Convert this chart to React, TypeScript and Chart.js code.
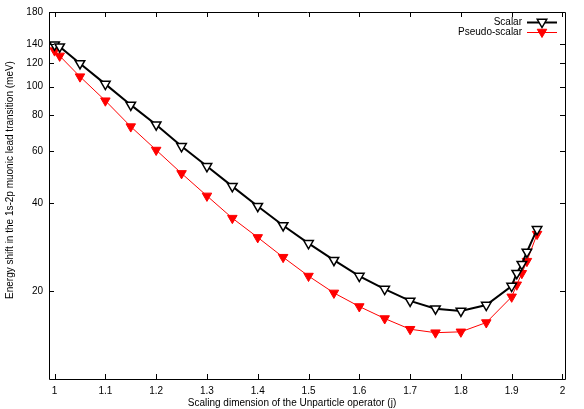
import React, { useEffect, useRef } from "react";
import { Chart, registerables } from "chart.js";

Chart.register(...registerables);

const xValues = [1, 1.01, 1.05, 1.1, 1.15, 1.2, 1.25, 1.3, 1.35, 1.4, 1.45, 1.5, 1.55, 1.6, 1.65, 1.7, 1.75, 1.8, 1.85, 1.9, 1.91, 1.92, 1.93, 1.95];
const scalarValues = [139, 137, 120, 102, 86.6, 74.1, 62.5, 53.4, 45.6, 39.0, 33.5, 29.1, 25.5, 22.5, 20.3, 18.5, 17.4, 17.1, 17.9, 20.8, 23.0, 24.7, 27.2, 32.5];
const pseudoValues = [132.8, 127.4, 108.2, 89.5, 73.0, 60.7, 50.5, 42.3, 35.5, 30.5, 26.1, 22.5, 19.7, 17.7, 16.1, 14.8, 14.4, 14.5, 15.6, 19.1, 21.0, 23.0, 25.3, 31.3];
const xTicks = [1, 1.1, 1.2, 1.3, 1.4, 1.5, 1.6, 1.7, 1.8, 1.9, 2];
const yTicks = [20, 40, 60, 80, 100, 120, 140, 180];
const seriesNames = ["Scalar", "Pseudo-scalar"];
const xTitle = "Scaling dimension of the Unparticle operator (j)";
const yTitle = "Energy shift in the 1s-2p muonic lead transition (meV)";

const FONT = "Liberation Sans, Arial, Helvetica, sans-serif";

const framePlugin = {
  id: "gnuplotFrame",
  afterDraw(chart: any) {
    const ctx = chart.ctx;
    const { left, right, top, bottom } = chart.chartArea;
    const xs = chart.scales.x;
    const ys = chart.scales.y;
    ctx.save();
    ctx.strokeStyle = "#000";
    ctx.lineWidth = 1;
    ctx.beginPath();
    ctx.rect(Math.round(left) + 0.5, Math.round(top) + 0.5, Math.round(right - left), Math.round(bottom - top));
    ctx.stroke();
    const t = 5;
    ctx.beginPath();
    xTicks.forEach((v) => {
      const px = Math.round(xs.getPixelForValue(v)) + 0.5;
      ctx.moveTo(px, bottom);
      ctx.lineTo(px, bottom - t);
      ctx.moveTo(px, top);
      ctx.lineTo(px, top + t);
    });
    yTicks.forEach((v) => {
      const py = Math.round(ys.getPixelForValue(v)) + 0.5;
      ctx.moveTo(left, py);
      ctx.lineTo(left + t, py);
      ctx.moveTo(right, py);
      ctx.lineTo(right - t, py);
    });
    ctx.stroke();

    // legend
    ctx.font = "10px " + FONT;
    ctx.fillStyle = "#000";
    ctx.textAlign = "right";
    ctx.textBaseline = "middle";
    chart.data.datasets.forEach((ds: any, i: number) => {
      const y = 22 + i * 10;
      ctx.fillStyle = "#000";
      ctx.fillText(ds.label, 522, y);
      ctx.strokeStyle = ds.borderColor;
      ctx.lineWidth = ds.borderWidth;
      ctx.beginPath();
      ctx.moveTo(527, y + 0.5);
      ctx.lineTo(557, y + 0.5);
      ctx.stroke();
      ctx.beginPath();
      const r = ds.pointRadius;
      const cx = 542;
      const cy = y;
      let rad = Math.PI; // rotation 180
      for (let k = 0; k < 3; k++) {
        rad += (2 * Math.PI) / 3;
        const px = cx + Math.sin(rad) * r;
        const py = cy - Math.cos(rad) * r;
        if (k === 0) ctx.moveTo(px, py);
        else ctx.lineTo(px, py);
      }
      ctx.closePath();
      ctx.fillStyle = ds.pointBackgroundColor;
      ctx.fill();
      ctx.strokeStyle = ds.pointBorderColor;
      ctx.lineWidth = ds.pointBorderWidth;
      ctx.stroke();
    });

    // axis titles
    ctx.fillStyle = "#000";
    ctx.textAlign = "center";
    ctx.textBaseline = "middle";
    ctx.fillText(xTitle, 292, 403);
    ctx.save();
    ctx.translate(10, 180);
    ctx.rotate(-Math.PI / 2);
    ctx.fillText(yTitle, 0, 0);
    ctx.restore();
    ctx.restore();
  },
};

export default function App() {
  const ref = useRef<HTMLCanvasElement>(null);
  useEffect(() => {
    document.body.style.margin = "0";
    const chart = new Chart(ref.current as HTMLCanvasElement, {
      type: "line",
      data: {
        datasets: [
          {
            label: seriesNames[0],
            data: xValues.map((x, i) => ({ x, y: scalarValues[i] })),
            borderColor: "#000",
            borderWidth: 2,
            pointStyle: "triangle",
            pointRotation: 180,
            pointRadius: 5.5,
            pointBackgroundColor: "#fff",
            pointBorderColor: "#000",
            pointBorderWidth: 1.5,
            tension: 0,
          },
          {
            label: seriesNames[1],
            data: xValues.map((x, i) => ({ x, y: pseudoValues[i] })),
            borderColor: "#ff0000",
            borderWidth: 1,
            pointStyle: "triangle",
            pointRotation: 180,
            pointRadius: 5.5,
            pointBackgroundColor: "#ff0000",
            pointBorderColor: "#ff0000",
            pointBorderWidth: 1,
            tension: 0,
          },
        ],
      },
      options: {
        animation: false,
        responsive: false,
        maintainAspectRatio: false,
        layout: { padding: { top: 12, right: 19, left: 0, bottom: 0 } },
        plugins: { legend: { display: false }, tooltip: { enabled: false } },
        scales: {
          x: {
            type: "linear",
            min: 0.989,
            max: 2.005,
            afterFit: (s: any) => { s.height = 30; },
            afterBuildTicks: (s: any) => { s.ticks = xTicks.map((v) => ({ value: v })); },
            grid: { display: false, drawTicks: false },
            border: { display: false },
            ticks: {
              padding: 6,
              color: "#000",
              font: { family: FONT, size: 10 },
              maxRotation: 0,
              autoSkip: false,
              callback: (v: any) => String(Math.round(Number(v) * 10) / 10),
            },
          },
          y: {
            type: "logarithmic",
            min: 10,
            max: 180,
            afterFit: (s: any) => { s.width = 49; },
            afterBuildTicks: (s: any) => { s.ticks = yTicks.map((v) => ({ value: v })); },
            grid: { display: false, drawTicks: false },
            border: { display: false },
            ticks: {
              padding: 6,
              color: "#000",
              font: { family: FONT, size: 10 },
              autoSkip: false,
              callback: (v: any) => String(v),
            },
          },
        },
      },
      plugins: [framePlugin],
    } as any);
    return () => chart.destroy();
  }, []);
  return (
    <div style={{ width: 584, height: 409 }}>
      <canvas ref={ref} width={584} height={409} style={{ display: "block" }} />
    </div>
  );
}
